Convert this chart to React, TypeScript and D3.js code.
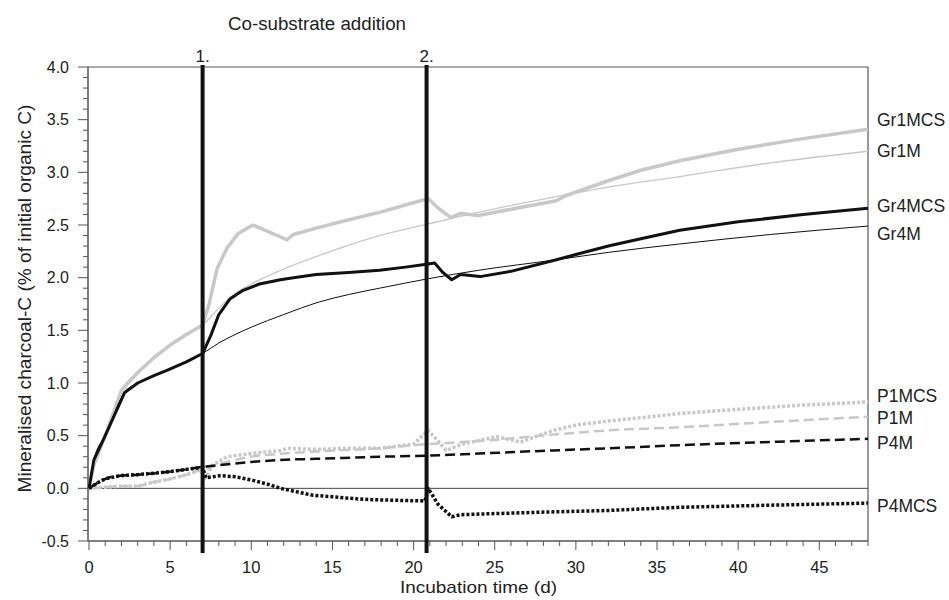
import { useRef, useEffect } from "react";
import * as d3 from "d3";

// [day, % mineralised]
const gr1MCS: [number, number][] = [
  [0, 0], [0.3, 0.22], [1, 0.5], [2, 0.93], [3, 1.1], [4, 1.24], [5, 1.36], [6, 1.46], [7, 1.55],
  [7.4, 1.75], [7.9, 2.09], [8.5, 2.28], [9.2, 2.42], [10.1, 2.5], [11, 2.44], [12.2, 2.36], [12.6, 2.41],
  [14, 2.47], [16, 2.55], [17.9, 2.62], [19.5, 2.69], [20.9, 2.75], [21.6, 2.65], [22.3, 2.57], [22.9, 2.61],
  [24, 2.59], [26, 2.65], [28.8, 2.73], [29.4, 2.78], [32, 2.92], [34, 3.02], [36.4, 3.11], [40, 3.22],
  [44, 3.32], [48, 3.41],
];
const gr1M: [number, number][] = [
  [0, 0], [0.3, 0.22], [1, 0.5], [2, 0.93], [3, 1.1], [4, 1.24], [5, 1.36], [6, 1.46], [7, 1.55],
  [8, 1.71], [9, 1.85], [10, 1.94], [11.8, 2.07], [14, 2.2], [16, 2.31], [17.9, 2.4], [20.9, 2.51],
  [24, 2.62], [28.8, 2.77], [32, 2.86], [36.4, 2.96], [42, 3.09], [48, 3.2],
];
const gr4MCS: [number, number][] = [
  [0, 0], [0.3, 0.27], [1, 0.5], [2.2, 0.91], [3, 1.0], [4, 1.07], [4.8, 1.12], [6, 1.2], [7, 1.28],
  [7.5, 1.45], [8, 1.65], [8.7, 1.8], [9.5, 1.88], [10.5, 1.94], [11.8, 1.98], [12.6, 2.0], [14, 2.03],
  [16, 2.05], [17.9, 2.07], [19.5, 2.1], [20.9, 2.13], [21.3, 2.14], [21.8, 2.05], [22.35, 1.98],
  [22.9, 2.03], [24.1, 2.01], [26, 2.06], [28.8, 2.17], [30, 2.22], [32, 2.3], [34, 2.37], [36.4, 2.45],
  [40, 2.53], [44, 2.6], [48, 2.66],
];
const gr4M: [number, number][] = [
  [0, 0], [0.3, 0.27], [1, 0.5], [2.2, 0.91], [3, 1.0], [4, 1.07], [4.8, 1.12], [6, 1.2], [7, 1.28],
  [8, 1.38], [9, 1.46], [10, 1.53], [12, 1.65], [14.2, 1.77], [16, 1.84], [17.9, 1.9], [20.9, 1.99],
  [24, 2.07], [28.8, 2.17], [32, 2.24], [36.4, 2.32], [42, 2.41], [48, 2.49],
];
const p1MCS: [number, number][] = [
  [0, 0], [1, 0.01], [2, 0.02], [3, 0.02], [3.6, 0.045], [5, 0.09], [6, 0.13], [6.8, 0.17], [7.2, 0.1],
  [7.6, 0.22], [8.5, 0.3], [10, 0.33], [11.8, 0.36], [12.2, 0.38], [14, 0.37], [16, 0.38], [17.9, 0.38],
  [20, 0.42], [20.9, 0.55], [21.5, 0.45], [22, 0.36], [23, 0.42], [25.1, 0.49], [26.6, 0.44], [28.6, 0.55],
  [30, 0.6], [32, 0.64], [34, 0.67], [36.4, 0.71], [40, 0.75], [44, 0.79], [48, 0.82],
];
const p1M: [number, number][] = [
  [0, 0], [1, 0.01], [2, 0.02], [3, 0.02], [3.6, 0.045], [5, 0.09], [6, 0.13], [6.8, 0.17],
  [7.5, 0.2], [8.5, 0.25], [10, 0.3], [12, 0.33], [14, 0.35], [17.9, 0.38], [20.9, 0.42], [22, 0.43],
  [25, 0.46], [28.6, 0.51], [32, 0.55], [36.4, 0.58], [42, 0.63], [48, 0.68],
];
const p4M: [number, number][] = [
  [0, 0], [0.5, 0.05], [1, 0.09], [1.9, 0.12], [3, 0.13], [4.8, 0.155], [6, 0.18], [6.8, 0.2],
  [8, 0.22], [10, 0.25], [11.8, 0.27], [14, 0.28], [17.9, 0.3], [20.9, 0.31], [24, 0.33], [28.6, 0.36],
  [32, 0.38], [36.4, 0.41], [42, 0.44], [48, 0.47],
];
const p4MCS: [number, number][] = [
  [0, 0], [0.5, 0.05], [1, 0.09], [1.9, 0.12], [3, 0.13], [4.8, 0.155], [6, 0.18], [7, 0.2],
  [7.2, 0.1], [8.1, 0.12], [9, 0.11], [10.1, 0.076], [11, 0.04], [11.8, 0], [13, -0.04], [13.8, -0.066],
  [15, -0.08], [16.5, -0.1], [17.9, -0.11], [20.7, -0.12], [20.9, 0], [21.5, -0.15], [22.35, -0.27],
  [22.9, -0.25], [25, -0.24], [28.2, -0.225], [32, -0.21], [36.4, -0.18], [42, -0.16], [48, -0.14],
];

const additionDays = [7, 20.8];
const additionLabels = ["1.", "2."];

const series = [
  { name: "Gr1M", data: gr1M, color: "#c8c8c8", width: 1.3, dash: null, smooth: true, labelY: 3.2 },
  { name: "Gr1MCS", data: gr1MCS, color: "#c8c8c8", width: 3.5, dash: null, smooth: false, labelY: 3.5 },
  { name: "Gr4M", data: gr4M, color: "#111", width: 1, dash: null, smooth: true, labelY: 2.42 },
  { name: "Gr4MCS", data: gr4MCS, color: "#111", width: 3, dash: null, smooth: false, labelY: 2.68 },
  { name: "P1M", data: p1M, color: "#c8c8c8", width: 2.5, dash: "10,5", smooth: true, labelY: 0.67 },
  { name: "P1MCS", data: p1MCS, color: "#c8c8c8", width: 3.5, dash: "3,2", smooth: false, labelY: 0.88 },
  { name: "P4M", data: p4M, color: "#111", width: 2.5, dash: "10,5", smooth: true, labelY: 0.43 },
  { name: "P4MCS", data: p4MCS, color: "#111", width: 3.5, dash: "3,2", smooth: false, labelY: -0.17 },
];

export default function App() {
  const svgRef = useRef<SVGSVGElement>(null);

  useEffect(() => {
    const width = 949;
    const height = 600;
    const margin = { top: 67, right: 81, bottom: 59, left: 88 };
    const x = d3.scaleLinear().domain([0, 48]).range([margin.left + 1, width - margin.right]);
    const y = d3.scaleLinear().domain([-0.5, 4]).range([height - margin.bottom, margin.top]);

    const svg = d3.select(svgRef.current);
    svg.selectAll("*").remove();

    const sans = "'Liberation Sans', Arial, sans-serif";
    const axisColor = "#555";
    const textColor = "#222";

    // frame: top + right
    svg.append("line")
      .attr("x1", margin.left).attr("x2", width - margin.right)
      .attr("y1", y(4)).attr("y2", y(4))
      .attr("stroke", axisColor).attr("stroke-width", 1.2);
    svg.append("line")
      .attr("x1", width - margin.right).attr("x2", width - margin.right)
      .attr("y1", y(4)).attr("y2", y(-0.5))
      .attr("stroke", axisColor).attr("stroke-width", 1.2);

    // zero line
    svg.append("line")
      .attr("x1", margin.left).attr("x2", width - margin.right)
      .attr("y1", y(0)).attr("y2", y(0))
      .attr("stroke", "#444").attr("stroke-width", 1);

    // y axis
    const yAxisG = svg.append("g").attr("transform", `translate(${margin.left},0)`);
    yAxisG.append("line")
      .attr("x1", 0).attr("x2", 0).attr("y1", y(4)).attr("y2", y(-0.5))
      .attr("stroke", axisColor).attr("stroke-width", 1.5);
    const yMinor = d3.range(-0.5, 4.001, 0.1);
    yAxisG.selectAll(".ytick").data(yMinor).enter().append("line")
      .attr("x1", (d) => (Math.abs(d * 2 - Math.round(d * 2)) < 1e-6 ? -10 : -5))
      .attr("x2", 0)
      .attr("y1", (d) => y(d)).attr("y2", (d) => y(d))
      .attr("stroke", axisColor).attr("stroke-width", 1);
    yAxisG.selectAll(".ylab").data(d3.range(-0.5, 4.001, 0.5)).enter().append("text")
      .attr("x", -19).attr("y", (d) => y(d)).attr("dy", "0.35em")
      .attr("text-anchor", "end").attr("font-family", sans).attr("font-size", 16)
      .attr("fill", textColor)
      .text((d) => d.toFixed(1));

    // x axis
    const xAxisG = svg.append("g").attr("transform", `translate(0,${y(-0.5)})`);
    xAxisG.append("line")
      .attr("x1", margin.left).attr("x2", width - margin.right).attr("y1", 0).attr("y2", 0)
      .attr("stroke", axisColor).attr("stroke-width", 1.5);
    xAxisG.selectAll(".xtick").data(d3.range(0, 49, 1)).enter().append("line")
      .attr("x1", (d) => x(d)).attr("x2", (d) => x(d))
      .attr("y1", 0).attr("y2", (d) => (d % 5 === 0 ? 9 : 5))
      .attr("stroke", axisColor).attr("stroke-width", 1);
    xAxisG.selectAll(".xlab").data(d3.range(0, 46, 5)).enter().append("text")
      .attr("x", (d) => x(d)).attr("y", 32)
      .attr("text-anchor", "middle").attr("font-family", sans).attr("font-size", 16.5)
      .attr("fill", textColor)
      .text((d) => String(d));

    // axis titles
    svg.append("text")
      .attr("x", 478.5).attr("y", 593)
      .attr("text-anchor", "middle").attr("font-family", sans).attr("font-size", 17)
      .attr("textLength", 157).attr("lengthAdjust", "spacingAndGlyphs")
      .attr("fill", textColor).text("Incubation time (d)");
    svg.append("text")
      .attr("transform", `translate(31,298.5) rotate(-90)`)
      .attr("text-anchor", "middle").attr("font-family", sans).attr("font-size", 17.5)
      .attr("textLength", 388).attr("lengthAdjust", "spacingAndGlyphs")
      .attr("fill", textColor).text("Mineralised charcoal-C (% of initial organic C)");

    // series
    const line = d3.line<[number, number]>().x((d) => x(d[0])).y((d) => y(d[1]));
    const smoothLine = d3.line<[number, number]>().x((d) => x(d[0])).y((d) => y(d[1])).curve(d3.curveMonotoneX);
    series.forEach((s) => {
      svg.append("path")
        .attr("d", (s.smooth ? smoothLine : line)(s.data))
        .attr("fill", "none")
        .attr("stroke", s.color)
        .attr("stroke-width", s.width)
        .attr("stroke-dasharray", s.dash)
        .attr("stroke-linejoin", "round");
      svg.append("text")
        .attr("x", width - margin.right + 9)
        .attr("y", y(s.labelY)).attr("dy", "0.35em")
        .attr("font-family", sans).attr("font-size", 17.5).attr("fill", textColor)
        .text(s.name);
    });

    // co-substrate addition markers
    additionDays.forEach((d, i) => {
      svg.append("line")
        .attr("x1", x(d)).attr("x2", x(d))
        .attr("y1", y(4) - 2).attr("y2", y(-0.5) + 12)
        .attr("stroke", "#111").attr("stroke-width", 4);
      svg.append("text")
        .attr("x", x(d)).attr("y", 62)
        .attr("text-anchor", "middle").attr("font-family", sans).attr("font-size", 17)
        .attr("fill", textColor).text(additionLabels[i]);
    });
    svg.append("text")
      .attr("x", 317).attr("y", 30)
      .attr("text-anchor", "middle").attr("font-family", sans).attr("font-size", 18)
      .attr("textLength", 178).attr("lengthAdjust", "spacingAndGlyphs")
      .attr("fill", textColor).text("Co-substrate addition");
  }, []);

  return (
    <svg
      ref={svgRef}
      width={949}
      height={600}
      style={{ position: "absolute", left: 0, top: 0, background: "#fff" }}
    />
  );
}
